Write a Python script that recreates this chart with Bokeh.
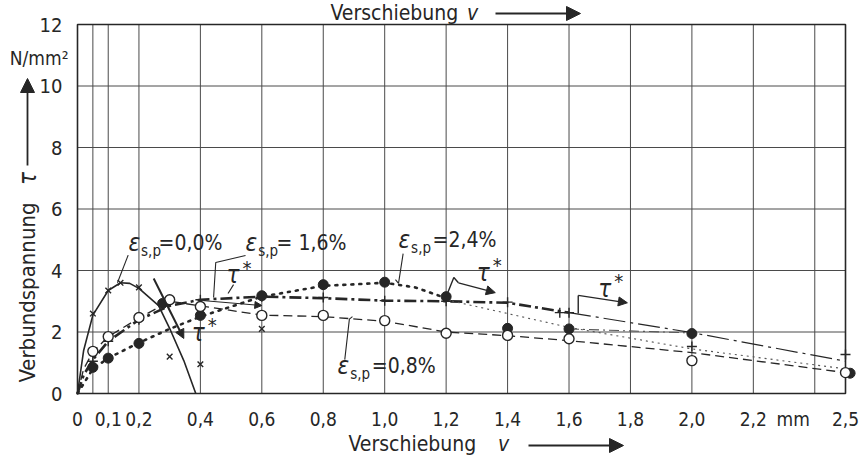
import math
from bokeh.plotting import figure
from bokeh.models import FixedTicker, Arrow, NormalHead, Range1d
from bokeh.core.properties import value
from bokeh.embed import file_html
from bokeh.resources import INLINE

# ---------------- data ----------------
x_ticks = [0, 0.1, 0.2, 0.4, 0.6, 0.8, 1.0, 1.2, 1.4, 1.6, 1.8, 2.0, 2.2, 2.33, 2.5]
x_tick_labels = ["0", "0,1", "0,2", "0,4", "0,6", "0,8", "1,0", "1,2", "1,4", "1,6",
                 "1,8", "2,0", "2,2", "mm", "2,5"]
x_grid = [0.05, 0.1, 0.2, 0.4, 0.6, 0.8, 1.0, 1.2, 1.4, 1.6, 1.8, 2.0, 2.2, 2.4]
y_ticks = [0, 2, 4, 6, 8, 10, 12]
y_grid = [2, 4, 6, 8, 10]
x_lim = [0, 2.5]
y_lim = [0, 12]

# eps_s,p = 0.0 %  (crosses, solid line)
c00_x = [0, 0.02, 0.05, 0.1, 0.14, 0.17, 0.2, 0.264, 0.303, 0.346, 0.385]
c00_y = [0, 1.4, 2.55, 3.35, 3.6, 3.58, 3.42, 2.86, 2.05, 1.07, 0.0]
m00_x = [0.05, 0.1, 0.14, 0.2, 0.3, 0.4, 0.6]
m00_y = [2.6, 3.35, 3.6, 3.45, 1.2, 0.95, 2.1]

# eps_s,p = 1.6 %  (plus, dash-dot line)
c16_x = [0, 0.02, 0.05, 0.1, 0.2, 0.3, 0.4, 0.6, 0.8, 1.0, 1.2, 1.4, 1.6]
c16_y = [0, 0.6, 1.1, 1.7, 2.4, 2.85, 3.05, 3.15, 3.1, 3.02, 3.0, 2.95, 2.63]
t16_x = [1.6, 2.0, 2.5]
t16_y = [2.63, 1.98, 1.05]
m16_x = [0.05, 0.1, 0.2, 0.4, 0.6, 0.8, 1.0, 1.2, 1.4, 1.57, 1.6, 2.0, 2.5]
m16_y = [1.05, 1.7, 2.4, 3.05, 3.15, 3.12, 3.02, 3.0, 2.97, 2.63, 2.63, 1.53, 1.27]

# eps_s,p = 2.4 %  (filled circles, dotted line)
c24_x = [0, 0.05, 0.1, 0.2, 0.3, 0.4, 0.6, 0.8, 1.0, 1.1, 1.2]
c24_y = [0, 0.8, 1.15, 1.65, 2.1, 2.5, 3.15, 3.5, 3.6, 3.45, 3.1]
t24_x = [1.2, 1.6, 2.0, 2.5]
t24_y = [3.05, 2.15, 1.45, 0.8]
k24_x = [1.6, 2.0]
k24_y = [2.1, 1.97]
m24_x = [0.05, 0.1, 0.2, 0.277, 0.4, 0.6, 0.8, 1.0, 1.2, 1.4, 1.6, 2.0, 2.515]
m24_y = [0.85, 1.15, 1.63, 2.93, 2.54, 3.18, 3.54, 3.62, 3.15, 2.12, 2.1, 1.95, 0.66]

# eps_s,p = 0.8 %  (open circles, dashed line)
c08_x = [0, 0.02, 0.05, 0.1, 0.2, 0.3, 0.4, 0.6, 0.8, 1.0, 1.2, 1.4, 1.6, 2.0, 2.5]
c08_y = [0, 0.8, 1.35, 1.85, 2.45, 3.0, 2.85, 2.55, 2.5, 2.35, 2.0, 1.88, 1.72, 1.33, 0.68]
m08_x = [0.05, 0.1, 0.2, 0.3, 0.4, 0.6, 0.8, 1.0, 1.2, 1.4, 1.6, 2.0, 2.5]
m08_y = [1.37, 1.85, 2.47, 3.05, 2.83, 2.54, 2.54, 2.37, 1.96, 1.89, 1.78, 1.07, 0.68]

# ---------------- layout / style ----------------
W, H = 859, 462
BOX_L, BOX_R, BOX_T, BOX_B = 77, 845, 24, 393        # plot box in canvas pixels
sx = (BOX_R - BOX_L) / (x_lim[1] - x_lim[0])         # px per mm
sy = (BOX_B - BOX_T) / (y_lim[1] - y_lim[0])         # px per N/mm2

def X(px):   # canvas px -> data x
    return x_lim[0] + (px - BOX_L) / sx

def Y(py):   # canvas px -> data y
    return y_lim[0] + (BOX_B - py) / sy

WORD = "DejaVu Sans Condensed"
INK = "#262626"
GRID = "#4a4a4a"

p = figure(width=W, height=H, x_range=Range1d(X(0), X(W)), y_range=Range1d(Y(H), Y(0)),
           output_backend="svg", toolbar_location=None, min_border=0)
p.background_fill_color = "white"
p.border_fill_color = "white"
p.outline_line_color = None
p.grid.visible = False

# axes through the library, pinned to the plot box
p.xaxis.fixed_location = y_lim[0]
p.yaxis.fixed_location = x_lim[0]
p.xaxis.ticker = FixedTicker(ticks=x_ticks)
p.xaxis.major_label_overrides = {t: l for t, l in zip(x_ticks, x_tick_labels)}
p.yaxis.ticker = FixedTicker(ticks=y_ticks)
for ax in (p.xaxis, p.yaxis):
    ax.axis_line_color = None
    ax.major_tick_line_color = None
    ax.minor_tick_line_color = None
    ax.major_label_text_font = WORD
    ax.major_label_text_color = INK
p.xaxis.major_label_text_font_size = "19px"
p.yaxis.major_label_text_font_size = "20px"
p.xaxis.major_label_standoff = 8
p.yaxis.major_label_standoff = 9

# grid and box
p.segment(x0=x_grid, y0=[y_lim[0]] * len(x_grid), x1=x_grid, y1=[y_lim[1]] * len(x_grid),
          line_color=GRID, line_width=1)
p.segment(x0=[x_lim[0]] * len(y_grid), y0=y_grid, x1=[x_lim[1]] * len(y_grid), y1=y_grid,
          line_color=GRID, line_width=1)
p.quad(left=[x_lim[0]], right=[x_lim[1]], bottom=[y_lim[0]], top=[y_lim[1]],
       fill_color=None, line_color=INK, line_width=1.6)

# curves
p.line(c00_x, c00_y, line_color=INK, line_width=1.6)
p.line(c16_x, c16_y, line_color=INK, line_width=2.6, line_dash="12 4 3 4")
p.line(t16_x, t16_y, line_color=INK, line_width=1.2, line_dash="22 5 3 5")
p.line(c24_x, c24_y, line_color=INK, line_width=2.6, line_dash="2 6", line_cap="round")
p.line(t24_x, t24_y, line_color="#555555", line_width=1.1, line_dash="2 4")
p.line(k24_x, k24_y, line_color="#555555", line_width=1.1, line_dash="10 4 2 4")
p.line(c08_x, c08_y, line_color=INK, line_width=1.3, line_dash="9 5")

# markers
p.scatter(m00_x, m00_y, marker="x", size=8, line_color=INK, line_width=1.4)
p.scatter(m16_x, m16_y, marker="cross", size=10, line_color=INK, line_width=1.4)
p.scatter(m24_x, m24_y, marker="circle", size=10, fill_color=INK, line_color=INK)
p.scatter(m08_x, m08_y, marker="circle", size=10, fill_color="white", line_color=INK, line_width=1.4)

# leader lines
p.multi_line(xs=[[0.165, 0.13], [0.547, 0.45, 0.443], [1.06, 1.045, 1.035], [0.87, 0.885, 0.895],
                 [0.508, 0.49]],
             ys=[[4.5, 3.6], [4.49, 4.26, 3.12], [4.55, 3.58, 3.7], [1.1, 2.42, 2.5],
                 [3.54, 3.25]],
             line_color=INK, line_width=1.1)
# tau* brackets
p.multi_line(xs=[[1.2, 1.225, 1.24], [1.63, 1.63]],
             ys=[[3.15, 3.77, 3.6], [2.6, 3.19]],
             line_color=INK, line_width=1.4)

def arrow(x0, y0, x1, y1, w=1.3, head=9):
    p.add_layout(Arrow(x_start=x0, y_start=y0, x_end=x1, y_end=y1, line_color=INK, line_width=w,
                       end=NormalHead(size=head, fill_color=INK, line_color=INK, line_width=1)))

arrow(0.248, 3.74, 0.346, 1.79, w=2.0)
arrow(0.41, 3.02, 0.6, 2.86, w=1.0, head=7)
arrow(1.24, 3.6, 1.36, 3.28)
arrow(1.63, 3.19, 1.79, 2.95)

def txt(x, y, s, size="21px", style="normal", yoff=0, align="left", angle=0.0):
    p.text(x=[x], y=[y], text=[s], text_font=value(WORD), text_font_size=size,
           text_font_style=style, text_color=INK, text_align=align, text_baseline="middle",
           y_offset=yoff, angle=angle)

def eps(x_eps, x_sub, x_rest, y, rest):
    txt(x_eps, y, "ε", size="24px", style="italic")
    txt(x_sub, y, "s,p", size="15px", yoff=8)
    txt(x_rest, y, rest)

eps(0.166, 0.207, 0.264, 4.91, "=0,0%")
eps(0.547, 0.588, 0.648, 4.91, " = 1,6%")
eps(1.045, 1.086, 1.156, 4.98, "=2,4%")
eps(0.846, 0.888, 0.958, 0.91, "=0,8%")

def tau(x, y):
    txt(x, y, "τ", size="24px", style="italic")
    txt(x + 0.052, y + 0.25, "*", size="20px")

tau(0.372, 1.98)
tau(0.485, 3.84)
tau(1.30, 3.93)
tau(1.695, 3.41)

# unit and axis titles (outside the plot box)
txt(X(68), Y(57), "N/mm²", size="19px", align="right")
txt(X(27), Y(292), "Verbundspannung", size="22px", align="center", angle=math.pi / 2)
txt(X(27), Y(178), "τ", size="24px", style="italic", align="center", angle=math.pi / 2)
arrow(X(27), Y(165), X(27), Y(78), w=1.8, head=14)

txt(X(348), Y(443), "Verschiebung", size="21px")
txt(X(503), Y(443), "v", size="21px", style="italic", align="center")
arrow(X(528), Y(445), X(623), Y(445), w=1.8, head=14)

txt(X(330), Y(12), "Verschiebung", size="21px")
txt(X(472), Y(12), "v", size="21px", style="italic", align="center")
arrow(X(495), Y(13), X(580), Y(13), w=1.8, head=14)

open("out.html", "w").write(file_html(p, INLINE))
